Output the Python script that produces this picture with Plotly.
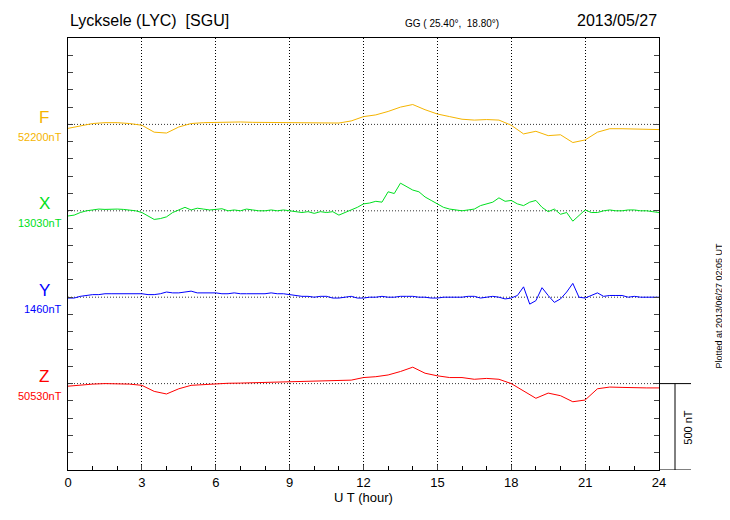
import plotly.graph_objects as go

hours_half = [i * 0.5 for i in range(49)]
hours_quarter = [i * 0.25 for i in range(97)]

# deviations from baseline (nT)
f_dev = [-23, -10, 5, 10, 10, 5, -5, -45, -50, -15, 5, 10, 12, 12, 14, 12, 12, 10, 10, 8,
         8, 10, 8, 20, 45, 55, 75, 100, 115, 85, 60, 45, 30, 25, 28, 25, -5, -55, -40, -65,
         -60, -105, -90, -45, -25, -25, -28, -28, -30]
x_dev = [-30, -25, -10, 0, 5, 10, 8, 10, 10,
         8, 5, 0, -10, -30, -50, -45, -35,
         -10, 5, 20, 5, 15, 10, 5, 8,
         12, 0, 5, 0, 10, 5, 0, 0,
         5, 0, 5, 0, -5, -10, -5, -15,
         -5, -10, -5, -25, -10, 5, 20, 40,
         45, 55, 50, 110, 100, 160, 140, 120,
         110, 80, 60, 40, 20, 10, 5, 0,
         5, 10, 30, 40, 50, 75, 55, 60,
         40, 30, 50, 60, 20, -5, 10, -20,
         -10, -60, -30, 5, -10, -10, 0, 5,
         0, 0, 5, 5, 0, 0, -5, -10]
y_dev = [-5, -5, 5, 10, 15, 15, 20, 20, 20,
         18, 18, 20, 20, 15, 15, 20, 30,
         25, 25, 30, 35, 25, 25, 25, 25,
         20, 20, 25, 20, 20, 20, 20, 20,
         25, 20, 20, 15, 10, 5, 5, 0,
         5, 5, -5, -5, 0, 5, -5, -5,
         0, 0, 5, 0, 0, 5, 5, 5,
         0, 0, -5, -5, 0, 0, 0, 0,
         5, 5, -5, 0, 5, 0, -10, -5,
         10, 60, -40, -20, 55, 10, -30, -10,
         30, 80, 0, -5, 10, 25, 5, 10,
         10, 10, 0, 5, 0, 0, 0, 0]
z_dev = [-15, -8, -3, 0, 0, -3, -10, -45, -60, -30, -10, -5, 0, 2, 3, 5, 5, 5, 8, 10,
         12, 15, 15, 20, 35, 40, 50, 70, 95, 60, 45, 35, 35, 25, 30, 25, 0, -45, -85, -55,
         -70, -105, -95, -30, -20, -22, -25, -25, -25]

components = ['F', 'X', 'Y', 'Z']
base_values = ['52200nT', '13030nT', '1460nT', '50530nT']
offsets = [2000, 1500, 1000, 500]
colors = ['#f5b400', '#00e020', '#0000ff', '#ff0000']
series = [(hours_half, f_dev), (hours_quarter, x_dev), (hours_quarter, y_dev), (hours_half, z_dev)]

FONT = 'Liberation Sans, Arial, sans-serif'
DOT = '1px,2px'

fig = go.Figure()
for (hrs, dev), off, col in zip(series, offsets, colors):
    fig.add_trace(go.Scatter(x=[0, 24], y=[off, off], mode='lines',
                             line=dict(color='black', width=0.8, dash=DOT),
                             hoverinfo='skip', showlegend=False))
    fig.add_trace(go.Scatter(x=hrs, y=[off + d for d in dev], mode='lines',
                             line=dict(color=col, width=1), showlegend=False))

annotations = []
for name, base, off, col in zip(components, base_values, offsets, colors):
    annotations.append(dict(x=0, y=off + 40, xref='paper', yref='y', text=name,
                            xanchor='center', showarrow=False, xshift=-24,
                            font=dict(size=17, color=col, family=FONT)))
    annotations.append(dict(x=0, y=off - 70, xref='paper', yref='y', text=base,
                            xanchor='right', showarrow=False, xshift=-4,
                            font=dict(size=11, color=col, family=FONT)))
annotations += [
    dict(x=0, y=1.0, xref='paper', yref='paper', text='Lycksele (LYC)  [SGU]', yshift=7,
         xanchor='left', yanchor='bottom', showarrow=False, font=dict(size=16, family=FONT, color='black')),
    dict(x=0.65, y=1.0, xref='paper', yref='paper', text='GG ( 25.40°,  18.80°)', yshift=7,
         xanchor='center', yanchor='bottom', showarrow=False, font=dict(size=10, family=FONT, color='black')),
    dict(x=1.0, y=1.0, xref='paper', yref='paper', text='2013/05/27', yshift=7,
         xanchor='right', yanchor='bottom', showarrow=False, font=dict(size=16, family=FONT, color='black')),
    dict(x=1 + 1.5 / 24, y=250, xref='paper', yref='y', text='500 nT', textangle=-90,
         showarrow=False, font=dict(size=11, family=FONT, color='black')),
    dict(x=1.113, y=0.38, xref='paper', yref='paper', text='Plotted at 2013/06/27 02:05 UT', textangle=-90,
         showarrow=False, font=dict(size=9, family=FONT, color='black')),
]

shapes = [
    dict(type='line', xref='paper', yref='y', x0=1, x1=1 + 1.3 / 24, y0=500, y1=500, line=dict(color='black', width=1)),
    dict(type='line', xref='paper', yref='y', x0=1 + 0.65 / 24, x1=1 + 0.65 / 24, y0=0, y1=500, line=dict(color='black', width=1)),
    dict(type='line', xref='paper', yref='y', x0=1, x1=1 + 1.3 / 24, y0=0, y1=0, line=dict(color='black', width=1)),
]

fig.update_layout(
    width=730, height=520, margin=dict(l=60, r=79, t=30, b=58),
    paper_bgcolor='white', plot_bgcolor='white',
    annotations=annotations, shapes=shapes,
    font=dict(family=FONT, color='black'),
    xaxis=dict(range=[0, 24], tickvals=list(range(0, 25, 3)), showgrid=True,
               gridcolor='black', griddash=DOT, gridwidth=0.8,
               showline=True, linecolor='black', mirror=True, ticks='inside', ticklen=5,
               minor=dict(dtick=1, ticks='inside', ticklen=4, tickcolor='black', showgrid=False),
               title=dict(text='U T (hour)', font=dict(size=13), standoff=2),
               tickfont=dict(size=13), zeroline=False),
    yaxis=dict(range=[0, 2500], dtick=100, showticklabels=False, showgrid=False,
               showline=True, linecolor='black', mirror='ticks', ticks='inside', ticklen=5,
               zeroline=False),
)

fig.write_html("out.html")
